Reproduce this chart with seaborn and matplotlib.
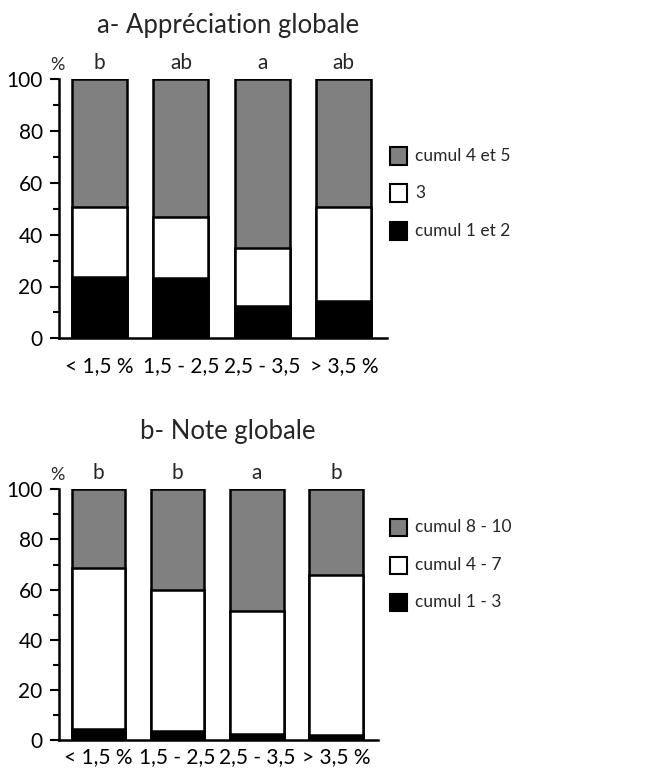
import matplotlib
matplotlib.use("Agg")
import matplotlib.pyplot as plt
import matplotlib.patches as mpatches
from matplotlib.ticker import MultipleLocator
import seaborn as sns
import pandas as pd

categories = ["< 1,5 %", "1,5 - 2,5", "2,5 - 3,5", "> 3,5 %"]

# a- Appréciation globale
a_low = [23.8, 23.4, 12.5, 14.4]    # cumul 1 et 2
a_mid = [27.0, 23.6, 22.2, 36.2]    # 3
a_high = [49.2, 53.0, 65.3, 49.4]   # cumul 4 et 5
a_letters = ["b", "ab", "a", "ab"]
a_legend = ["cumul 4 et 5", "3", "cumul 1 et 2"]

# b- Note globale
b_low = [4.4, 3.7, 2.3, 2.0]        # cumul 1 - 3
b_mid = [64.1, 56.1, 49.2, 63.8]    # cumul 4 - 7
b_high = [31.5, 40.2, 48.5, 34.2]   # cumul 8 - 10
b_letters = ["b", "b", "a", "b"]
b_legend = ["cumul 8 - 10", "cumul 4 - 7", "cumul 1 - 3"]

sns.set_theme(style="white")
plt.rcParams["font.family"] = ["Lato", "DejaVu Sans"]

GRAY = "#808080"
W, H = 672, 771
fig = plt.figure(figsize=(W / 100, H / 100), dpi=100)


def panel(rect, low, mid, high, letters, legend_labels, title, title_y,
          leg_ys, xpad):
    ax = fig.add_axes(rect)
    df = pd.DataFrame({
        "cat": categories,
        "low": low,
        "lowmid": [l + m for l, m in zip(low, mid)],
        "total": [l + m + h for l, m, h in zip(low, mid, high)],
    })
    common = dict(x="cat", order=categories, width=0.675, saturation=1,
                  edgecolor="black", linewidth=1.8, ax=ax, errorbar=None)
    sns.barplot(data=df, y="total", color=GRAY, **common)
    sns.barplot(data=df, y="lowmid", color="white", **common)
    sns.barplot(data=df, y="low", color="black", **common)

    ax.set_xlim(-0.5, 3.53)
    ax.set_ylim(0, 100)
    ax.set_xlabel("")
    ax.set_ylabel("")
    for s in ["top", "right"]:
        ax.spines[s].set_visible(False)
    for s in ["left", "bottom"]:
        ax.spines[s].set_linewidth(1.8)
        ax.spines[s].set_color("black")
    ax.yaxis.set_major_locator(MultipleLocator(20))
    ax.yaxis.set_minor_locator(MultipleLocator(10))
    ax.tick_params(axis="y", which="major", direction="out", length=6.5,
                   width=1.5, color="black", labelsize=15, pad=5, left=True)
    ax.tick_params(axis="y", which="minor", direction="out", length=4,
                   width=1.5, color="black", left=True)
    ax.tick_params(axis="x", length=0, labelsize=15, pad=xpad)
    for lab in ax.get_yticklabels() + ax.get_xticklabels():
        lab.set_color("black")

    for i, t in enumerate(letters):
        ax.text(i, 102.5, t, ha="center", va="bottom", fontsize=15,
                clip_on=False)
    ax.text(-0.52, 102.5, "%", ha="center", va="bottom", fontsize=13,
            clip_on=False)

    fig.text(228 / W, 1 - title_y / H, title, ha="center", va="center",
             fontsize=18.5)

    colors = [GRAY, "white", "black"]
    for lab, c, yy in zip(legend_labels, colors, leg_ys):
        fig.patches.append(mpatches.Rectangle(
            (390 / W, 1 - (yy + 8.5) / H), 17 / W, 17 / H,
            transform=fig.transFigure, facecolor=c, edgecolor="black",
            linewidth=1.5))
        fig.text(415 / W, 1 - yy / H, lab, ha="left", va="center",
                 fontsize=12.5)
    return ax


panel([58.7 / W, 1 - 338.3 / H, (387 - 58.7) / W, (338.3 - 79.3) / H],
      a_low, a_mid, a_high, a_letters, a_legend,
      "a- Appréciation globale", 25, [156, 193, 231], 13)
panel([58.7 / W, 1 - 740 / H, (378 - 58.7) / W, (740 - 489.3) / H],
      b_low, b_mid, b_high, b_letters, b_legend,
      "b- Note globale", 432, [527, 565, 602], 5)

fig.savefig("out.png", dpi=100)
